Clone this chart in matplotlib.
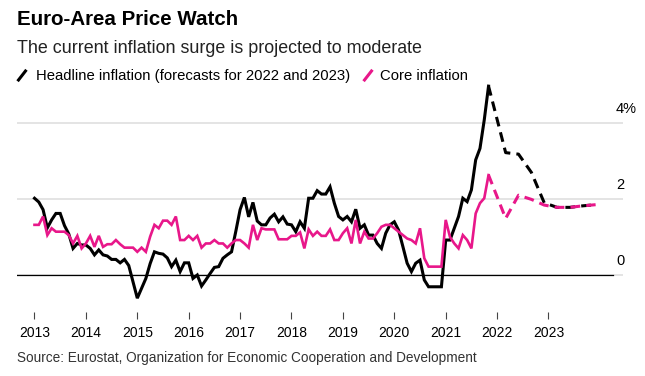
import pandas as pd
import matplotlib
matplotlib.use('Agg')
import matplotlib.pyplot as plt
import matplotlib.transforms as mtransforms
from matplotlib.lines import Line2D

plt.rcParams['font.family'] = ['Liberation Sans', 'DejaVu Sans']

# Monthly actuals, Jan 2013 - Nov 2021 (% y/y)
headline = [
    2.02, 1.92, 1.72, 1.24, 1.45, 1.62, 1.62, 1.30, 1.08, 0.70, 0.83, 0.79,
    0.79, 0.70, 0.53, 0.66, 0.53, 0.50, 0.41, 0.41, 0.32, 0.41, 0.25, -0.18,
    -0.61, -0.35, -0.09, 0.30, 0.61, 0.57, 0.55, 0.45, 0.22, 0.39, 0.09, 0.32,
    0.32, -0.09, 0.00, -0.29, -0.13, 0.04, 0.20, 0.22, 0.44, 0.53, 0.61, 1.15,
    1.72, 2.04, 1.53, 1.91, 1.42, 1.32, 1.32, 1.50, 1.60, 1.40, 1.53, 1.34,
    1.32, 1.14, 1.40, 1.23, 2.02, 2.02, 2.22, 2.13, 2.13, 2.32, 1.89, 1.54,
    1.45, 1.54, 1.40, 1.73, 1.23, 1.32, 1.05, 1.05, 0.83, 0.70, 1.10, 1.32,
    1.40, 1.18, 0.75, 0.31, 0.09, 0.31, 0.39, -0.13, -0.31, -0.31, -0.31, -0.31,
    0.92, 0.92, 1.23, 1.54, 2.02, 1.93, 2.24, 3.03, 3.33, 4.08, 4.97,
]
core = [
    1.32, 1.32, 1.54, 1.05, 1.23, 1.14, 1.14, 1.14, 1.05, 0.83, 1.03, 0.70,
    0.83, 1.03, 0.74, 1.03, 0.74, 0.81, 0.81, 0.92, 0.81, 0.72, 0.72, 0.72,
    0.61, 0.72, 0.61, 1.01, 1.32, 1.23, 1.43, 1.43, 1.32, 1.54, 0.92, 0.92,
    1.03, 0.92, 1.03, 0.72, 0.83, 0.83, 0.92, 0.83, 0.83, 0.72, 0.83, 0.92,
    0.92, 0.83, 0.72, 1.32, 0.92, 1.23, 1.20, 1.20, 1.20, 0.94, 0.94, 0.94,
    1.03, 1.03, 1.12, 0.70, 1.20, 1.03, 1.14, 1.03, 1.03, 1.20, 0.92, 0.92,
    1.10, 1.23, 0.83, 1.45, 0.83, 1.14, 0.96, 0.96, 1.10, 1.27, 1.32, 1.32,
    1.23, 1.14, 1.05, 0.96, 0.92, 0.83, 1.23, 0.44, 0.22, 0.22, 0.22, 0.22,
    1.45, 1.00, 0.83, 0.70, 1.05, 0.92, 0.70, 1.62, 1.89, 2.02, 2.63,
]

# Quarterly forecasts, starting from the last actual month
fc_dates = ['2021-11', '2022-03', '2022-06', '2022-09', '2022-12',
            '2023-03', '2023-06', '2023-09', '2023-12']
headline_fc = [4.97, 3.22, 3.18, 2.70, 1.90, 1.78, 1.78, 1.82, 1.85]
core_fc = [2.63, 1.49, 2.10, 1.99, 1.84, 1.78, 1.78, 1.82, 1.85]

years = list(range(2013, 2024))
y_marks = [0, 2, 4]
y_labels = ['0', '2', '4%']

PINK = '#e8178a'
W, H = 645, 376


def to_year(dates):
    d = pd.to_datetime(dates)
    return d.year + (d.month - 1) / 12


x_act = to_year(pd.date_range('2013-01-01', periods=len(headline), freq='MS'))
x_fc = to_year(fc_dates)

fig = plt.figure(figsize=(W / 100, H / 100), dpi=100)
ax = fig.add_axes([17 / W, 1 - 312 / H, 606 / W, 232 / H])

# gridlines (light) and black zero line
for v in y_marks:
    ax.axhline(v, color='#dcdcdc', lw=1.1, zorder=0)
ax.axhline(0, xmax=0.9835, color='black', lw=0.9, zorder=1)

ax.plot(x_act, headline, color='black', lw=2.2, solid_joinstyle='miter', zorder=3)
ax.plot(x_act, core, color=PINK, lw=1.9, solid_joinstyle='miter', zorder=4)
ax.plot(x_fc, headline_fc, color='black', lw=2.2, ls=(0, (3.2, 2.0)), zorder=3)
ax.plot(x_fc, core_fc, color=PINK, lw=2.2, ls=(0, (3.2, 2.0)), zorder=4)

ax.set_xlim(2013 + (17 - 34.5) / 51.4, 2013 + (623 - 34.5) / 51.4)
ax.set_ylim((275 - 312) / 38, (275 - 80) / 38)

# value labels on the right, above each gridline
trans = mtransforms.blended_transform_factory(ax.transAxes, ax.transData)
for v, lab in zip(y_marks, y_labels):
    ax.annotate(lab, xy=((616 - 17) / 606, v), xycoords=trans,
                xytext=(0, 5), textcoords='offset points',
                ha='left', va='bottom', fontsize=10.5)

ax.set_xticks(years)
ax.set_xticklabels([str(y) for y in years])
ax.set_yticks([])
ax.tick_params(axis='x', length=5, width=0.8, color='#444444', pad=5, labelsize=10)
for s in ax.spines.values():
    s.set_visible(False)

# header
fig.text(17 / W, 1 - 25 / H, 'Euro-Area Price Watch', fontsize=14.8,
         fontweight='bold', va='baseline')
fig.text(17 / W, 1 - 53 / H, 'The current inflation surge is projected to moderate',
         fontsize=12.9, color='#222222', va='baseline')

# legend
fig.add_artist(Line2D([18.5 / W, 25.5 / W], [1 - 80 / H, 1 - 71 / H],
                      color='black', lw=2.2, transform=fig.transFigure))
fig.text(36 / W, 1 - 80 / H, 'Headline inflation (forecasts for 2022 and 2023)',
         fontsize=10.7, va='baseline')
fig.add_artist(Line2D([364.5 / W, 371.5 / W], [1 - 80 / H, 1 - 71 / H],
                      color=PINK, lw=2.2, transform=fig.transFigure))
fig.text(380 / W, 1 - 80 / H, 'Core inflation', fontsize=10.7, va='baseline')

fig.text(17 / W, 1 - 362 / H,
         'Source: Eurostat, Organization for Economic Cooperation and Development',
         fontsize=9.8, color='#333333', va='baseline')

fig.savefig('out.png', dpi=100)
